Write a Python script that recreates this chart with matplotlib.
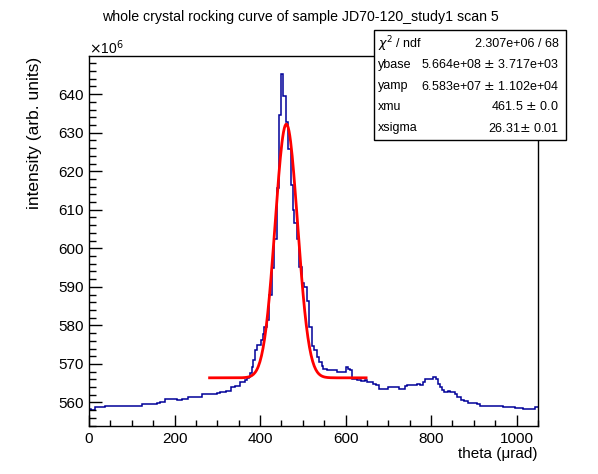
import numpy as np
import matplotlib.pyplot as plt
from matplotlib.patches import Rectangle
from matplotlib.ticker import MultipleLocator

plt.rcParams['font.family'] = ['Liberation Sans', 'DejaVu Sans']

# histogram: bin edges in theta (urad), contents in units of 1e6
bin_edges = [0, 4, 13, 37, 80, 85, 101, 111, 124, 158, 166, 178, 205, 217, 232,
             264, 272, 299, 307, 320, 333, 342, 354, 364, 369, 373, 376.6, 380.5,
             384.4, 388.3, 393.8, 401.6, 406.3, 410.2, 415.6, 421.8, 427.4, 433.6,
             440.5, 445.2, 449.8, 454.5, 460.8, 466.2, 471.8, 476.5, 480.4, 486,
             492.1, 497.6, 502, 509.3, 514.4, 520.7, 526.1, 532.4, 538.6, 544.1,
             548, 555.8, 579.2, 590.9, 601.2, 606.6, 610.5, 616, 622.2, 627.7,
             635.5, 645.6, 651, 665.1, 671.3, 679.1, 700.2, 725.9, 739.2, 743.1,
             768.1, 774.3, 780.5, 786, 791.5, 805.5, 811.7, 815.6, 821.1, 825,
             830.4, 840.6, 844.4, 852.2, 856.1, 861.6, 869.4, 877.2, 887.3, 906.8,
             914.6, 918.5, 922.4, 959.9, 969.2, 996.5, 1014.5, 1043.3, 1050]
bin_values = [558.3, 558.1, 558.7, 559.0, 559.2, 559.0, 559.2, 559.0, 559.55, 559.9,
              560.25, 560.8, 560.6, 561.0, 561.45, 562.2, 562.3, 562.4, 562.7, 563.1,
              564.05, 564.3, 565.2, 565.8, 566.3, 566.6, 567.7, 569.3, 571.0, 573.6,
              574.9, 576.2, 577.7, 579.6, 581.4, 587.9, 594.8, 602.3, 615.6, 634.6,
              645.2, 639.4, 632.9, 625.7, 616.4, 609.9, 606.5, 602.3, 595.2, 590.9,
              590.0, 586.4, 579.6, 574.6, 573.6, 571.9, 570.5, 569.4, 568.8, 568.4,
              568.0, 567.8, 569.1, 568.7, 568.4, 566.2, 566.0, 565.8, 565.5, 565.8,
              565.2, 564.9, 564.5, 563.6, 563.9, 563.6, 564.2, 564.5, 564.75, 564.5,
              565.35, 566.0, 566.2, 566.5, 566.0, 564.75, 563.9, 563.2, 562.8, 562.9,
              562.8, 562.6, 562.2, 561.45, 560.6, 560.3, 559.9, 559.5, 559.1, 559.2,
              559.0, 559.1, 558.9, 558.6, 558.25, 558.7]

# fit parameters, as printed in the stats box
ybase = 5.664e+08
yamp = 6.583e+07
xmu = 461.5
xsigma = 26.31
fit_range = (282, 648)

stat_names = ['$\\chi^{2}$ / ndf', 'ybase', 'yamp', 'xmu', 'xsigma']
stat_texts = ['2.307e+06 / 68', '5.664e+08 $\\pm$ 3.717e+03',
              '6.583e+07 $\\pm$ 1.102e+04', '461.5 $\\pm$ 0.0', '26.31$\\pm$ 0.01']

W, H = 598, 474
fig = plt.figure(figsize=(W / 100, H / 100), dpi=100)
ax = fig.add_axes([89 / W, 1 - 426 / H, (538 - 89) / W, (426 - 56) / H])

ax.stairs(bin_values, bin_edges, baseline=None, color='#000099', lw=1.1)

xf = np.linspace(fit_range[0], fit_range[1], 200)
yf = (ybase + yamp * np.exp(-0.5 * ((xf - xmu) / xsigma) ** 2)) / 1e6
ax.plot(xf, yf, color='red', lw=2.0)

ax.set_xlim(0, 1050)
ax.set_ylim(553.9, 649.9)
ax.xaxis.set_major_locator(MultipleLocator(200))
ax.xaxis.set_minor_locator(MultipleLocator(50))
ax.yaxis.set_major_locator(MultipleLocator(10))
ax.yaxis.set_minor_locator(MultipleLocator(2))
ax.tick_params(axis='both', which='both', direction='in', labelsize=11,
               top=False, right=False, width=1)
ax.tick_params(axis='x', which='major', length=8, pad=4)
ax.tick_params(axis='x', which='minor', length=4)
ax.tick_params(axis='y', which='major', length=9.7, pad=4)
ax.tick_params(axis='y', which='minor', length=4.9)
for s in ax.spines.values():
    s.set_linewidth(1)

fig.text(89 / W, 1 - 48 / H, '$\\times$10$^{6}$', fontsize=10, ha='left', va='center')
fig.text(538 / W, 1 - 454 / H, 'theta (\u03bcrad)', fontsize=11, ha='right', va='center')
fig.text(35 / W, 1 - 57 / H, 'intensity (arb. units)', fontsize=12.5, rotation=90,
         ha='center', va='top')
fig.text(300 / W, 1 - 17 / H, 'whole crystal rocking curve of sample JD70-120_study1 scan 5',
         fontsize=10.2, ha='center', va='center')

# stats box
box = Rectangle((374 / W, 1 - 140 / H), (566 - 374) / W, 110 / H, transform=fig.transFigure,
                facecolor='white', edgecolor='black', lw=1, zorder=5)
fig.add_artist(box)
row_y = [44, 65, 86, 107, 128]
for name, txt, yy in zip(stat_names, stat_texts, row_y):
    fig.text(378 / W, 1 - yy / H, name, fontsize=9, ha='left', va='center', zorder=6)
    fig.text(559 / W, 1 - yy / H, txt, fontsize=9, ha='right', va='center', zorder=6)

fig.savefig('out.png', dpi=100)
